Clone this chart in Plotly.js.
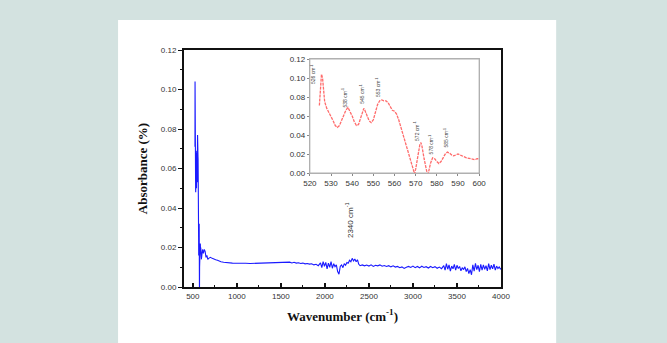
<!DOCTYPE html>
<html>
<head>
<meta charset="utf-8">
<script src="https://cdn.plot.ly/plotly-3.0.1.min.js"></script>
<style>html,body{margin:0;padding:0;background:#d3e2e0;}#chart{width:667px;height:343px;}</style>
</head>
<body>
<div id="chart"></div>
<script>
// Inset (low wavenumber region) data
var insetX = [524.5, 525.5, 526, 527, 528, 529, 530, 531, 532, 533, 534, 535, 536, 537, 538, 539, 540, 541, 542, 543, 544, 545, 545.5, 546, 547, 548, 549, 550, 551, 552, 553, 554, 555, 556, 557, 558, 559, 560, 561, 562, 563, 564, 565, 566, 567, 568, 569, 569.5, 570, 571, 572, 572.5, 573, 574, 575, 575.5, 576, 577, 578, 579, 580, 581, 582, 583, 584, 585, 586, 587, 588, 589, 590, 591, 592, 594, 596, 598, 599, 600];
var insetY = [0.071, 0.104, 0.100, 0.075, 0.068, 0.064, 0.060, 0.055, 0.050, 0.048, 0.050, 0.055, 0.060, 0.066, 0.069, 0.065, 0.060, 0.054, 0.050, 0.051, 0.058, 0.066, 0.068, 0.066, 0.060, 0.055, 0.053, 0.056, 0.064, 0.072, 0.076, 0.077, 0.076, 0.076, 0.074, 0.070, 0.066, 0.065, 0.062, 0.056, 0.048, 0.040, 0.033, 0.025, 0.016, 0.008, 0.002, -0.001, 0.004, 0.018, 0.030, 0.032, 0.028, 0.015, 0.004, -0.001, 0.000, 0.010, 0.016, 0.015, 0.012, 0.010, 0.012, 0.016, 0.020, 0.022, 0.021, 0.019, 0.018, 0.019, 0.020, 0.019, 0.018, 0.016, 0.015, 0.014, 0.015, 0.015];

// Main spectrum beyond 600 cm-1
var mainX = [610, 620, 630, 640, 650, 660, 670, 680, 700, 720, 740, 760, 780, 800, 820, 850, 900, 950, 1000, 1050, 1100, 1150, 1200, 1250, 1300, 1350, 1400, 1450, 1500, 1525, 1550, 1575, 1600, 1625, 1650, 1675, 1700, 1725, 1750, 1775, 1800, 1825, 1850, 1875, 1900, 1925, 1950, 1965, 1980, 1995, 2010, 2025, 2040, 2055, 2070, 2085, 2100, 2115, 2130, 2145, 2160, 2175, 2190, 2205, 2220, 2235, 2250, 2265, 2280, 2295, 2310, 2325, 2340, 2355, 2370, 2385, 2400, 2425, 2450, 2475, 2500, 2525, 2550, 2575, 2600, 2625, 2650, 2675, 2700, 2725, 2750, 2775, 2800, 2825, 2850, 2875, 2900, 2925, 2950, 2975, 3000, 3025, 3050, 3075, 3100, 3125, 3150, 3175, 3200, 3225, 3250, 3275, 3300, 3325, 3350, 3365, 3380, 3395, 3410, 3425, 3440, 3455, 3470, 3485, 3500, 3515, 3530, 3545, 3560, 3575, 3590, 3605, 3620, 3635, 3650, 3665, 3680, 3695, 3710, 3725, 3740, 3755, 3770, 3785, 3800, 3815, 3830, 3845, 3860, 3875, 3890, 3905, 3920, 3935, 3950, 3965, 3980, 3995, 4000];
var mainY = [0.019, 0.017, 0.019, 0.018, 0.015, 0.016, 0.014, 0.0145, 0.015, 0.0145, 0.014, 0.0138, 0.0135, 0.013, 0.0128, 0.0125, 0.0122, 0.0121, 0.012, 0.0121, 0.012, 0.0119, 0.012, 0.0121, 0.0121, 0.0122, 0.0123, 0.0124, 0.0126, 0.0123, 0.0127, 0.0124, 0.0126, 0.0122, 0.0125, 0.0121, 0.0123, 0.0119, 0.0121, 0.0117, 0.0119, 0.0116, 0.0118, 0.0112, 0.0115, 0.0108, 0.0122, 0.0098, 0.0128, 0.0105, 0.0125, 0.0092, 0.0121, 0.0100, 0.0128, 0.0095, 0.0118, 0.0103, 0.0112, 0.0078, 0.0065, 0.0105, 0.0112, 0.0098, 0.0118, 0.0110, 0.0124, 0.0120, 0.0135, 0.0128, 0.0145, 0.0132, 0.0142, 0.0128, 0.0138, 0.0115, 0.0108, 0.0112, 0.0107, 0.0111, 0.0106, 0.0112, 0.0104, 0.0110, 0.0107, 0.0112, 0.0105, 0.0109, 0.0104, 0.0108, 0.0102, 0.0107, 0.0101, 0.0104, 0.0098, 0.0102, 0.0094, 0.0100, 0.0104, 0.0099, 0.0106, 0.0098, 0.0104, 0.0097, 0.0105, 0.0099, 0.0103, 0.0096, 0.0104, 0.0098, 0.0103, 0.0095, 0.0101, 0.0093, 0.0108, 0.0085, 0.0118, 0.0090, 0.0112, 0.0080, 0.0106, 0.0092, 0.0115, 0.0085, 0.0110, 0.0094, 0.0104, 0.0082, 0.0098, 0.0088, 0.0102, 0.0078, 0.0094, 0.0068, 0.0088, 0.0062, 0.0112, 0.0080, 0.0120, 0.0088, 0.0110, 0.0078, 0.0115, 0.0085, 0.0112, 0.0090, 0.0108, 0.0082, 0.0118, 0.0088, 0.0110, 0.0092, 0.0116, 0.0086, 0.0106, 0.0094, 0.0102, 0.0090, 0.0095];

// Peak labels
var insetLabelX = [521.4, 536.6, 544.5, 552.0, 570.5, 577.2, 584.2];
var insetLabelY = [0.104, 0.0795, 0.083, 0.090, 0.044, 0.030, 0.037];
var insetLabels = ['526 cm<sup>-1</sup>', '538 cm<sup>-1</sup>', '545 cm<sup>-1</sup>', '553 cm<sup>-1</sup>', '572 cm<sup>-1</sup>', '578 cm<sup>-1</sup>', '585 cm<sup>-1</sup>'];
var mainLabelX = [2276];
var mainLabelY = [0.034];
var mainLabels = ['2340 cm<sup>-1</sup>'];

var fullX = insetX.concat(mainX);
var fullY = insetY.concat(mainY);

var traces = [
  {x: fullX, y: fullY, type: 'scatter', mode: 'lines', line: {color: '#1a1aff', width: 1.1}, xaxis: 'x', yaxis: 'y', hoverinfo: 'skip'},
  {x: insetX, y: insetY, type: 'scatter', mode: 'lines', line: {color: '#ff6b6b', width: 1.3, dash: '3px,1px'}, xaxis: 'x2', yaxis: 'y2', hoverinfo: 'skip'}
];

var tickFont = {family: 'Liberation Sans, Arial, sans-serif', size: 8, color: '#333'};
var annotations = [];
insetLabelX.forEach(function(v, i) {
  annotations.push({x: v, y: insetLabelY[i], xref: 'x2', yref: 'y2', text: insetLabels[i], showarrow: false, textangle: -90, font: {family: 'Liberation Sans, Arial, sans-serif', size: 5, color: '#444'}});
});
mainLabelX.forEach(function(v, i) {
  annotations.push({x: v, y: mainLabelY[i], xref: 'x', yref: 'y', text: mainLabels[i], showarrow: false, textangle: -90, font: {family: 'Liberation Sans, Arial, sans-serif', size: 8, color: '#333'}});
});

var layout = {
  width: 667, height: 343,
  margin: {l: 184, r: 166, t: 50, b: 56},
  paper_bgcolor: '#d3e2e0',
  plot_bgcolor: 'rgba(0,0,0,0)',
  showlegend: false,
  shapes: [
    {type: 'rect', xref: 'paper', yref: 'paper', x0: -0.208, x1: 1.174, y0: -0.3, y1: 1.127, fillcolor: '#ffffff', line: {width: 0}, layer: 'below'},
    {type: 'rect', xref: 'paper', yref: 'paper', x0: 0.397, x1: 0.931, y0: 0.481, y1: 0.962, fillcolor: '#ffffff', line: {color: '#b0b0b0', width: 1}, layer: 'below'}
  ],
  xaxis: {
    domain: [0, 1], range: [400, 4000], tick0: 500, dtick: 500,
    showline: true, linecolor: '#111', linewidth: 2, mirror: true,
    ticks: 'inside', ticklen: 4, tickwidth: 1.5, tickcolor: '#111',
    minor: {dtick: 250, ticks: 'inside', ticklen: 2, tickwidth: 1, tickcolor: '#111'},
    showgrid: false, zeroline: false, tickfont: tickFont,
    title: {text: '<b>Wavenumber (cm<sup>-1</sup>)</b>', font: {family: 'Liberation Serif, Times New Roman, serif', size: 13, color: '#111'}, standoff: 12}
  },
  yaxis: {
    domain: [0, 1], range: [0, 0.12], dtick: 0.02, tickformat: '.2f',
    showline: true, linecolor: '#111', linewidth: 2, mirror: true,
    ticks: 'outside', ticklen: 4, tickwidth: 1, tickcolor: '#111',
    minor: {dtick: 0.01, ticks: 'outside', ticklen: 2, tickwidth: 1, tickcolor: '#111'},
    showgrid: false, zeroline: false, tickfont: tickFont,
    title: {text: '<b>Absorbance (%)</b>', font: {family: 'Liberation Serif, Times New Roman, serif', size: 13, color: '#111'}, standoff: 10}
  },
  xaxis2: {
    domain: [0.397, 0.931], anchor: 'y2', range: [520, 600], dtick: 10,
    showline: true, linecolor: '#b0b0b0', linewidth: 1, mirror: true,
    ticks: 'outside', ticklen: 2, tickcolor: '#888',
    showgrid: false, zeroline: false, tickfont: tickFont
  },
  yaxis2: {
    domain: [0.481, 0.962], anchor: 'x2', range: [0, 0.12], dtick: 0.02, tickformat: '.2f',
    showline: true, linecolor: '#b0b0b0', linewidth: 1, mirror: true,
    ticks: 'outside', ticklen: 2, tickcolor: '#888',
    showgrid: false, zeroline: false, tickfont: tickFont
  },
  annotations: annotations
};

Plotly.newPlot('chart', traces, layout, {staticPlot: true, displayModeBar: false});
</script>
</body>
</html>
